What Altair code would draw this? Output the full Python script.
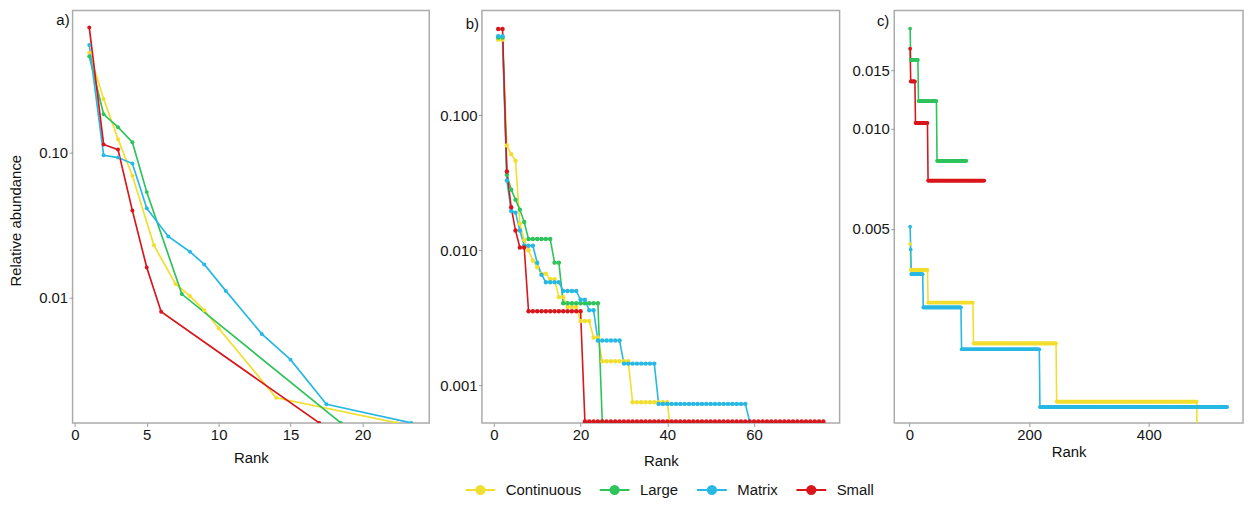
import altair as alt
import pandas as pd

SERIES = ["Continuous", "Large", "Matrix", "Small"]
COLORS = ["#F2DE2E", "#2EC35B", "#27B8E3", "#D9161C"]

# ---------------- panel a) : explicit rank / abundance points ----------------
a_cont_rank = [1, 2, 3, 4, 5.5, 7, 8, 9, 10, 14, 22.4]
a_cont_val = [0.489, 0.235, 0.124, 0.0692, 0.0229, 0.0124, 0.01025, 0.00815, 0.00613, 0.00203, 0.00136]
a_large_rank = [1, 2, 3, 4, 5, 7.44, 18.5]
a_large_val = [0.463, 0.184, 0.150, 0.118, 0.0534, 0.01055, 0.00136]
a_matrix_rank = [1, 2, 3, 4, 5, 6.5, 8, 9, 10.5, 13, 15, 17.5, 23.4]
a_matrix_val = [0.554, 0.0959, 0.0925, 0.0841, 0.0413, 0.0264, 0.0207, 0.0169, 0.0111, 0.0056, 0.00372, 0.00183, 0.00136]
a_small_rank = [1, 2, 3, 4, 5, 6, 17]
a_small_val = [0.733, 0.114, 0.105, 0.0398, 0.0161, 0.00798, 0.00136]

# ---------------- panel b) : (number of ranks, abundance) runs ----------------
b_cont_counts = [2, 1, 1, 1, 1, 1, 1, 1, 1, 2, 2, 2, 3, 3, 2, 7, 9, 1]
b_cont_vals = [0.362, 0.0596, 0.0514, 0.0459, 0.0157, 0.0119, 0.0100, 0.0084, 0.0075, 0.0067, 0.0061,
               0.0045, 0.0038, 0.0030, 0.00226, 0.00151, 0.00075, 0.0004]
b_large_counts = [2, 1, 1, 1, 1, 1, 6, 2, 9, 1]
b_large_vals = [0.375, 0.0362, 0.0281, 0.0237, 0.0200, 0.0162, 0.0121, 0.0081, 0.00405, 0.00054]
b_matrix_counts = [2, 1, 1, 1, 1, 3, 1, 1, 4, 4, 2, 2, 6, 8, 21, 1]
b_matrix_vals = [0.383, 0.0328, 0.0195, 0.0190, 0.0140, 0.0108, 0.0081, 0.0066, 0.0058, 0.0050,
                 0.0043, 0.0036, 0.00215, 0.00145, 0.00073, 0.00054]
b_small_counts = [2, 1, 1, 1, 2, 13, 56]
b_small_vals = [0.434, 0.0383, 0.0208, 0.0140, 0.0105, 0.00354, 0.00054]

# ---------------- panel c) : (number of ranks, abundance) runs ----------------
c_cont_counts = [1, 29, 76, 139, 235, 1]
c_cont_vals = [0.0045, 0.00376, 0.0030, 0.00226, 0.00151, 0.0011]
c_large_counts = [1, 13, 31, 50]
c_large_vals = [0.0200, 0.0161, 0.0121, 0.0080]
c_matrix_counts = [1, 1, 20, 64, 131, 314]
c_matrix_vals = [0.00507, 0.00433, 0.00365, 0.0029, 0.00217, 0.001456]
c_small_counts = [1, 8, 21, 95]
c_small_vals = [0.0174, 0.01387, 0.0104, 0.00698]


def pts(series, ranks, vals):
    return [dict(series=series, rank=r, value=v) for r, v in zip(ranks, vals)]


def runs(series, counts, vals):
    rows, r = [], 1
    for n, v in zip(counts, vals):
        for _ in range(n):
            rows.append(dict(series=series, rank=r, value=v))
            r += 1
    return rows


df_a = pd.DataFrame(pts("Continuous", a_cont_rank, a_cont_val) + pts("Large", a_large_rank, a_large_val)
                    + pts("Matrix", a_matrix_rank, a_matrix_val) + pts("Small", a_small_rank, a_small_val))
df_b = pd.DataFrame(runs("Continuous", b_cont_counts, b_cont_vals) + runs("Large", b_large_counts, b_large_vals)
                    + runs("Matrix", b_matrix_counts, b_matrix_vals) + runs("Small", b_small_counts, b_small_vals))
df_c = pd.DataFrame(runs("Continuous", c_cont_counts, c_cont_vals) + runs("Large", c_large_counts, c_large_vals)
                    + runs("Matrix", c_matrix_counts, c_matrix_vals) + runs("Small", c_small_counts, c_small_vals))

LEGEND_PATH = "M-1,0L1,0M-0.27,0A0.27,0.27,0,1,1,0.27,0A0.27,0.27,0,1,1,-0.27,0Z"


def panel(df, tag, width, xdom, xvals, ydom, yvals, yfmt, ytitle, ext, pt_size, line_w, title_pad, tag_x, tag_y):
    x = alt.X("rank:Q", scale=alt.Scale(domain=xdom, nice=False, zero=False),
              axis=alt.Axis(values=xvals, title="Rank", titlePadding=title_pad))
    if ytitle:
        yaxis = alt.Axis(values=yvals, format=yfmt, title=ytitle, titleX=-57, titleY=211,
                         titleAngle=270, titleBaseline="middle", minExtent=ext, maxExtent=ext)
    else:
        yaxis = alt.Axis(values=yvals, format=yfmt, title=None, minExtent=ext, maxExtent=ext)
    y = alt.Y("value:Q", scale=alt.Scale(type="log", domain=ydom, nice=False), axis=yaxis)
    leg = alt.Legend(title=None)
    line = alt.Chart(df).mark_line(clip=True, strokeWidth=line_w).encode(
        x=x, y=y,
        stroke=alt.Stroke("series:N", scale=alt.Scale(domain=SERIES, range=COLORS), legend=leg),
    )
    point = alt.Chart(df).mark_point(clip=True, filled=True, size=pt_size, opacity=1).encode(
        x=x, y=y,
        fill=alt.Fill("series:N", scale=alt.Scale(domain=SERIES, range=COLORS), legend=leg),
    )
    txt = alt.Chart(pd.DataFrame({"t": [tag]})).mark_text(
        align="right", baseline="middle", fontSize=15, font="Liberation Sans", color="#111"
    ).encode(text="t:N", x=alt.value(tag_x), y=alt.value(tag_y))
    return alt.layer(line, point, txt).properties(width=width, height=415)


pa = panel(df_a, "a)", 359, [-0.16, 24.65], [0, 5, 10, 15, 20], [0.00136, 0.958], [0.1, 0.01], ".2f",
           "Relative abundance", 40, 16, 1.7, 8, -3, 10)
pb = panel(df_b, "b)", 360, [-2.75, 79.75], [0, 20, 40, 60], [0.000528, 0.594], [0.1, 0.01, 0.001], ".3f",
           None, 40, 20, 1.6, 11, -3, 14)
pc = panel(df_c, "c)", 351, [-25.5, 557.5], [0, 200, 400], [0.001303, 0.02265], [0.015, 0.01, 0.005], ".3f",
           None, 45, 14, 1.6, 2, -5, 11)

chart = alt.hconcat(pa, pb, pc, spacing=8).resolve_scale(
    x="independent", y="independent", fill="shared", stroke="shared"
).properties(
    padding={"left": 0, "top": 0, "right": 0, "bottom": 0}
).configure(
    font="Liberation Sans"
).configure_view(
    stroke="#ABABAB", strokeWidth=1.5
).configure_axis(
    grid=False, domain=False, tickColor="#999999", tickSize=3.5, tickWidth=1,
    labelFontSize=15, labelColor="#151515", labelPadding=1.5,
    titleFontSize=15, titleColor="#111111", titleFontWeight="normal",
    labelFont="Liberation Sans", titleFont="Liberation Sans"
).configure_legend(
    orient="none", legendX=394, legendY=466, direction="horizontal",
    symbolType=LEGEND_PATH, symbolSize=900, symbolStrokeWidth=2.2,
    labelFontSize=15, labelColor="#151515", labelFont="Liberation Sans",
    labelOffset=9, columnPadding=14
)

chart.save("out.html", embed_options={"renderer": "svg", "actions": False})
